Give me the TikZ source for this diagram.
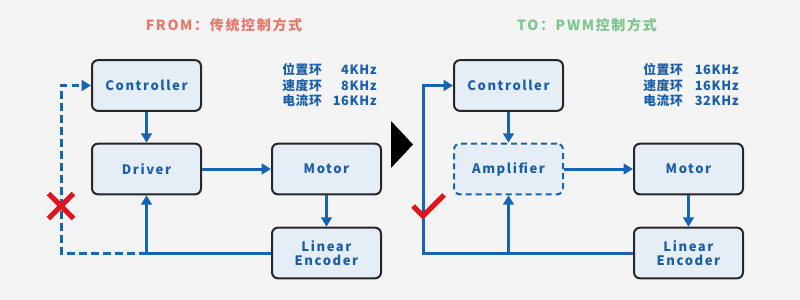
\documentclass[tikz,border=0pt]{standalone}
\usepackage{fontspec}
\setmainfont{Noto Sans CJK SC}
\newfontfamily\lsfont{Noto Sans CJK SC}[LetterSpace=12]
\newfontfamily\frfont{Noto Sans CJK SC}[LetterSpace=5]
\usetikzlibrary{arrows.meta}
\definecolor{bg}{HTML}{F4F4F4}
\definecolor{boxfill}{HTML}{E5EDF7}
\definecolor{blu}{HTML}{1664B2}
\definecolor{txtblue}{HTML}{1A5FA8}
\definecolor{fromred}{HTML}{E8776B}
\definecolor{togreen}{HTML}{7DC48F}
\definecolor{xred}{HTML}{E01520}
\begin{document}
\begin{tikzpicture}[x=0.75pt,y=-0.75pt,
  blk/.style={draw=black!85, line width=1.5pt, fill=boxfill, rounded corners=4.5pt,
    minimum width=81.75pt, minimum height=38pt, inner sep=0pt, align=center,
    text=txtblue, font=\lsfont\bfseries\fontsize{9.8}{10.5}\selectfont},
  dblk/.style={blk, draw=blu, dash pattern=on 4.5pt off 3pt},
  conn/.style={draw=blu, line width=2.25pt},
  arr/.style={conn, -{Triangle[length=7pt,width=8pt]}},
  dconn/.style={conn, dash pattern=on 5.5pt off 3.5pt},
  freq/.style={text=txtblue, font=\frfont\bfseries\fontsize{9.6}{11}\selectfont, inner sep=0pt},
  ttl/.style={font=\lsfont\bfseries\fontsize{10.5}{12}\selectfont, inner sep=0pt},
  redmark/.style={draw=xred, line width=3.8pt}
]
\fill[bg] (0,0) rectangle (800,300);
\useasboundingbox (0,0) rectangle (800,300);

% ---------- titles ----------
\node[ttl, text=fromred] (t1) at (224,25) {FROM：传统控制方式};
\node[ttl, text=togreen] (t2) at (587,25) {TO：PWM控制方式};

% ---------- left panel ----------
\node[blk] (ctrlL) at (146.5,85.5) {Controller};
\node[blk] (drvL)  at (146.5,169) {Driver};
\node[blk] (motL)  at (326.5,169) {Motor};
\node[blk] (encL)  at (326.5,253) {Linear\\Encoder};

\node[freq, anchor=west] (fa1) at (282,70) {位置环};
\node[freq, anchor=west] (fa2) at (282,86) {速度环};
\node[freq, anchor=west] (fa3) at (282,101) {电流环};
\node[freq, anchor=east] (fb1) at (377,70) {4KHz};
\node[freq, anchor=east] (fb2) at (377,86) {8KHz};
\node[freq, anchor=east] (fb3) at (377,101) {16KHz};

\draw[arr] (ctrlL) -- (drvL);
\draw[arr] (drvL) -- (motL);
\draw[arr] (motL) -- (encL);
\coordinate (jL) at (drvL.south |- encL.west);
\coordinate (cL) at (61,253);
\draw[conn] (encL.west) -- (jL);
\draw[arr] (jL) -- (drvL.south);
\draw[dconn, -{Triangle[length=7pt,width=8pt]}] (jL) -- (cL) |- (ctrlL.west);
\draw[redmark] (48.5,193.5) -- (73.5,218.5);
\draw[redmark] (48.5,218.5) -- (73.5,193.5);

% ---------- arrow between ----------
\fill[black] (391,121) -- (413,144.5) -- (391,168) -- cycle;

% ---------- right panel ----------
\node[blk]  (ctrlR) at (508.5,85.5) {Controller};
\node[dblk] (ampR)  at (508.5,169) {Amplifier};
\node[blk]  (motR)  at (688.5,169) {Motor};
\node[blk]  (encR)  at (688.5,253) {Linear\\Encoder};

\node[freq, anchor=west] (fc1) at (643,70) {位置环};
\node[freq, anchor=west] (fc2) at (643,86) {速度环};
\node[freq, anchor=west] (fc3) at (643,101) {电流环};
\node[freq, anchor=east] (fd1) at (739,70) {16KHz};
\node[freq, anchor=east] (fd2) at (739,86) {16KHz};
\node[freq, anchor=east] (fd3) at (739,101) {32KHz};

\draw[arr] (ctrlR) -- (ampR);
\draw[arr] (ampR) -- (motR);
\draw[arr] (motR) -- (encR);
\coordinate (jR) at (ampR.south |- encR.west);
\coordinate (cR) at (423,253);
\draw[conn] (encR.west) -- (jR);
\draw[arr] (jR) -- (ampR.south);
\draw[arr] (jR) -- (cR) |- (ctrlR.west);
\draw[redmark, line join=miter] (413,206) -- (423,216) -- (444,195);
\end{tikzpicture}
\end{document}
